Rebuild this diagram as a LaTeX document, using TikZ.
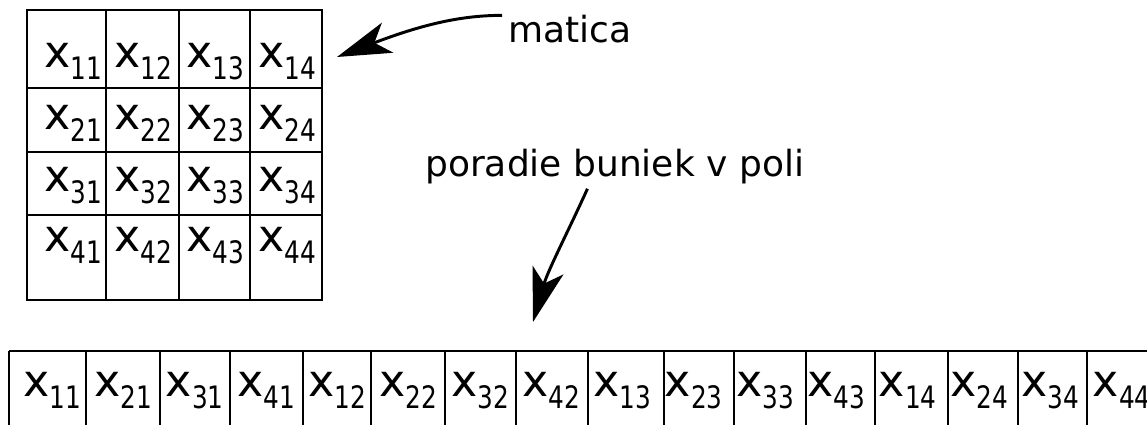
\documentclass[tikz,border=0pt]{standalone}
\usepackage{fontspec}
\setmainfont{DejaVu Sans}
\newfontfamily\subfont{DejaVu Sans}[FakeStretch=0.8]
\usetikzlibrary{arrows.meta}

% x with a two digit index
\newcommand{\xsub}[1]{x\raisebox{-8.5pt}{\subfont\fontsize{22}{22}\selectfont #1}}

\begin{document}
\begin{tikzpicture}[x=0.025cm, y=-0.025cm,
  >={Stealth[length=1.35cm, width=0.8cm, inset=0.35cm]},
  grid/.style={line width=2.1pt},
  cell/.style={anchor=base west, inner sep=0pt, font=\fontsize{31.5}{31.5}\selectfont},
  note/.style={anchor=base west, inner sep=0pt, font=\fontsize{25.6}{25.6}\selectfont},
  pointer/.style={line width=2.1pt, ->}]
  \useasboundingbox (0,0) rectangle (1147,425);

  % Matrix
  \draw[grid] (27,10) rectangle (322,300);
  \foreach \y in {88,152,215} {
    \draw[grid] (27,\y) -- (322,\y);
  }
  \foreach \x in {106,179,250} {
    \draw[grid] (\x,10) -- (\x,300);
  }
  \foreach \r/\yb in {1/68, 2/130, 3/192, 4/252} {
    \foreach \c/\xb in {1/44, 2/114, 3/186, 4/258} {
      \node[cell] (m\r\c) at (\xb,\yb) {\xsub{\r\c}};
    }
  }

  % Array (column by column)
  \draw[grid] (9,351) -- (1147,351);
  \foreach \x in {9,86,160,230,303,371,445,516,588,664,734,806,875,948,1018,1087} {
    \draw[grid] (\x,351) -- (\x,425);
  }
  \foreach \k/\ij in {0/11, 1/21, 2/31, 3/41, 4/12, 5/22, 6/32, 7/42,
                      8/13, 9/23, 10/33, 11/43, 12/14, 13/24, 14/34, 15/44} {
    \pgfmathsetmacro{\xb}{23+71.3*\k}
    \node[cell] (a\ij) at (\xb,397) {\xsub{\ij}};
  }

  % Labels
  \node[note] (matica) at (508,43) {matica};
  \node[note] (poradie) at (425,177) {poradie buniek v poli};

  \coordinate (mtip) at (337,57);
  \coordinate (ptip) at (533,322);
  \draw[pointer] ([xshift=-0.15cm]matica.north west)
    .. controls +(-42,0) and +(84,-32) .. (mtip);
  \draw[pointer] ([xshift=-0.68cm,yshift=-0.1cm]poradie.south)
    .. controls +(-18,40) and +(15,-52) .. (ptip);
\end{tikzpicture}
\end{document}
